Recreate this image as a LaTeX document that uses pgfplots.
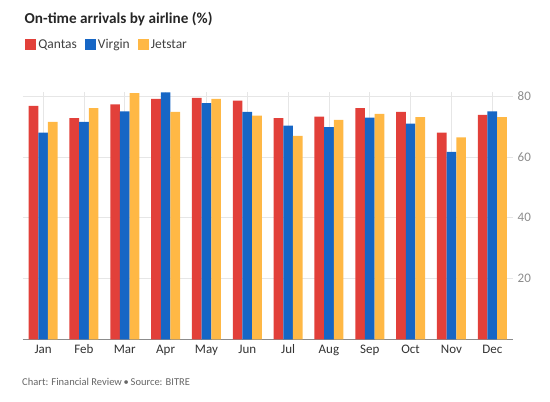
\documentclass[border=0pt]{standalone}
\usepackage{fontspec}
\setmainfont{Carlito}
\usepackage{pgfplots}
\pgfplotsset{compat=1.18}
\definecolor{qred}{HTML}{E2403A}
\definecolor{vblue}{HTML}{1666C5}
\definecolor{jyel}{HTML}{FFB845}
\definecolor{gridc}{HTML}{E6E6E6}
\definecolor{axc}{HTML}{8C8C8C}
\begin{document}
\begin{tikzpicture}
\useasboundingbox (0pt,0pt) rectangle (550pt,402pt);
\node[anchor=base west, font=\bfseries\fontsize{15.2}{18}\selectfont, text=black!85, inner sep=0pt] at (24.5pt,378.7pt) {On-time arrivals by airline (\%)};
\node[anchor=base west, font=\fontsize{10.5}{13}\selectfont, text=black!60, inner sep=0pt] at (22pt,16pt) {Chart: Financial Review\,•\,Source: BITRE};
\begin{axis}[
  at={(22.7pt,62.7pt)}, anchor=south west,
  scale only axis, width=490pt, height=247.2pt,
  xmin=-0.5, xmax=11.5, ymin=0, ymax=81.3,
  ybar=0pt, bar width=9.67pt,
  axis x line=bottom, axis y line=right,
  x axis line style={draw=axc, line width=0.8pt, -},
  y axis line style={draw=none},
  major tick length=0pt,
  xtick={0,1,2,3,4,5,6,7,8,9,10,11},
  xticklabels={Jan,Feb,Mar,Apr,May,Jun,Jul,Aug,Sep,Oct,Nov,Dec},
  ytick={20,40,60,80},
  grid=major, grid style={draw=gridc, line width=0.7pt},
  /pgf/number format/assume math mode=true,
  x tick label style={font=\fontsize{13}{15}\selectfont, text=black!80, yshift=-2pt},
  y tick label style={font=\fontsize{13}{15}\selectfont, text=black!45, xshift=1.5pt},
  legend columns=3,
  legend style={draw=none, fill=none, at={(axis description cs:0.005,1.1926)}, anchor=west, inner sep=0pt,
    font=\fontsize{13.5}{15}\selectfont, text=black!75,
    /tikz/every even column/.append style={column sep=6pt}},
  legend image code/.code={\fill[#1] (0pt,-5.5pt) rectangle (11pt,5.5pt);},
  clip=false,
]
\addplot[fill=qred, draw=none] coordinates {(0,76.8) (1,72.7) (2,77.3) (3,79.1) (4,79.4) (5,78.5) (6,72.7) (7,73.2) (8,76.0) (9,74.8) (10,68.0) (11,73.8)};
\addplot[fill=vblue, draw=none] coordinates {(0,68.0) (1,71.5) (2,75.0) (3,81.2) (4,77.7) (5,74.8) (6,70.3) (7,69.8) (8,72.9) (9,70.9) (10,61.6) (11,75.0)};
\addplot[fill=jyel, draw=none] coordinates {(0,71.5) (1,76.0) (2,81.0) (3,74.8) (4,79.1) (5,73.6) (6,66.9) (7,72.2) (8,74.1) (9,73.1) (10,66.4) (11,73.1)};
\legend{Qantas,Virgin,Jetstar}
\end{axis}
\end{tikzpicture}
\end{document}
